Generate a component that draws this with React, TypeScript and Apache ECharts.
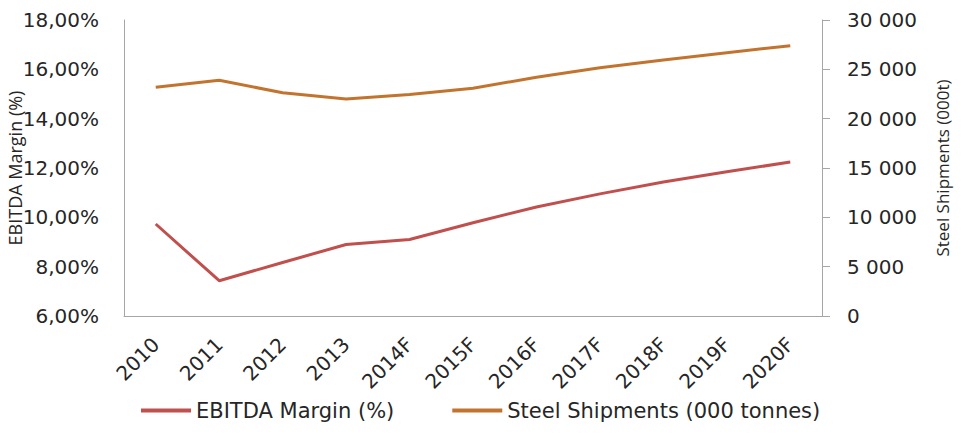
import React, { useEffect, useRef } from "react";
import * as echarts from "echarts";

// Years on the category axis (F = forecast)
const years = ["2010", "2011", "2012", "2013", "2014F", "2015F", "2016F", "2017F", "2018F", "2019F", "2020F"];
// EBITDA margin, percent (left axis)
const ebitdaMargin = [9.73, 7.43, 8.17, 8.9, 9.1, 9.78, 10.42, 10.95, 11.43, 11.85, 12.24];
// Steel shipments, thousand tonnes (right axis)
const steelShipments = [23180, 23900, 22620, 22000, 22450, 23080, 24200, 25150, 25950, 26680, 27400];

const marginTicks = { min: 6, max: 18, step: 2 };
const shipmentTicks = { min: 0, max: 30000, step: 5000 };

const RED = "#C0504D";
const ORANGE = "#C2742F";
const AXIS_GREY = "#A6A6A6";
const TEXT = "#262626";
const TICK_FONT = "'DejaVu Sans', sans-serif";
const NAME_FONT = "'Open Sans', sans-serif";

const fmtPercent = (v: number) => v.toFixed(2).replace(".", ",") + "%";
const fmtThousands = (v: number) => String(Math.round(v)).replace(/\B(?=(\d{3})+(?!\d))/g, " ");

export default function App() {
  const ref = useRef<HTMLDivElement>(null);

  useEffect(() => {
    if (!ref.current) return;
    const chart = echarts.init(ref.current, undefined, { renderer: "svg" });
    chart.setOption({
      animation: false,
      backgroundColor: "#ffffff",
      grid: {
        left: 124,
        right: 139,
        top: 20,
        bottom: 129,
        containLabel: false,
        outerBoundsMode: "none",
      },
      legend: {
        left: 136,
        top: 395,
        itemWidth: 50,
        itemHeight: 4,
        itemGap: 58,
        icon: "rect",
        textStyle: { fontFamily: TICK_FONT, fontSize: 21, color: TEXT },
        data: ["EBITDA Margin (%)", "Steel Shipments (000 tonnes)"],
      },
      xAxis: {
        type: "category",
        data: years,
        boundaryGap: true,
        axisLine: { show: true, lineStyle: { color: AXIS_GREY, width: 1 } },
        axisTick: { show: false },
        axisLabel: {
          rotate: 45,
          margin: 25,
          interval: 0,
          fontFamily: TICK_FONT,
          fontSize: 20,
          color: TEXT,
        },
        splitLine: { show: false },
      },
      yAxis: [
        {
          type: "value",
          min: marginTicks.min,
          max: marginTicks.max,
          interval: marginTicks.step,
          position: "left",
          name: "EBITDA Margin (%)",
          nameLocation: "middle",
          nameGap: 100,
          nameRotate: 90,
          nameMoveOverlap: false,
          nameTextStyle: { fontFamily: NAME_FONT, fontSize: 18, color: TEXT },
          axisLine: { show: true, lineStyle: { color: AXIS_GREY, width: 1 } },
          axisTick: { show: false },
          axisLabel: {
            formatter: fmtPercent,
            margin: 25,
            fontFamily: TICK_FONT,
            fontSize: 20,
            color: TEXT,
          },
          splitLine: { show: false },
        },
        {
          type: "value",
          min: shipmentTicks.min,
          max: shipmentTicks.max,
          interval: shipmentTicks.step,
          position: "right",
          name: "Steel Shipments (000t)",
          nameLocation: "middle",
          nameGap: 112,
          nameRotate: 90,
          nameTextStyle: { fontFamily: NAME_FONT, fontSize: 17, color: TEXT },
          axisLine: { show: true, lineStyle: { color: AXIS_GREY, width: 1 } },
          axisTick: { show: true, length: 8, inside: false, lineStyle: { color: AXIS_GREY } },
          axisLabel: {
            formatter: fmtThousands,
            margin: 25,
            fontFamily: TICK_FONT,
            fontSize: 20,
            color: TEXT,
          },
          splitLine: { show: false },
        },
      ],
      series: [
        {
          name: "EBITDA Margin (%)",
          type: "line",
          yAxisIndex: 0,
          data: ebitdaMargin,
          symbol: "none",
          lineStyle: { color: RED, width: 3 },
          itemStyle: { color: RED },
        },
        {
          name: "Steel Shipments (000 tonnes)",
          type: "line",
          yAxisIndex: 1,
          data: steelShipments,
          symbol: "none",
          lineStyle: { color: ORANGE, width: 3 },
          itemStyle: { color: ORANGE },
        },
      ],
    });
    return () => chart.dispose();
  }, []);

  return (
    <div
      ref={ref}
      style={{ position: "absolute", left: 0, top: 0, width: 961, height: 445 }}
    />
  );
}
